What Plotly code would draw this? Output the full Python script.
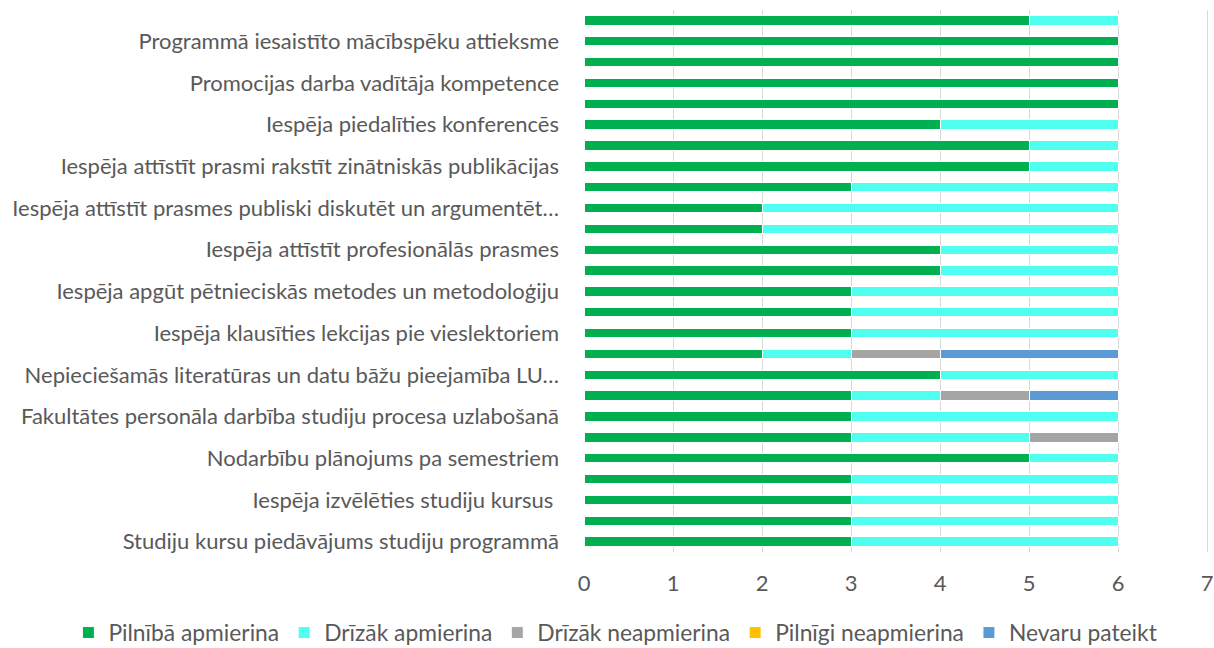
import plotly.graph_objects as go

# Categories bottom -> top (26 rows); only every other row carries a visible label
labels = [
    "Studiju kursu piedāvājums studiju programmā", "",
    "Iespēja izvēlēties studiju kursus ", "",
    "Nodarbību plānojums pa semestriem", "",
    "Fakultātes personāla darbība studiju procesa uzlabošanā", "",
    "Nepieciešamās literatūras un datu bāžu pieejamība LU…", "",
    "Iespēja klausīties lekcijas pie vieslektoriem", "",
    "Iespēja apgūt pētnieciskās metodes un metodoloģiju", "",
    "Iespēja attīstīt profesionālās prasmes", "",
    "Iespēja attīstīt prasmes publiski diskutēt un argumentēt…", "",
    "Iespēja attīstīt prasmi rakstīt zinātniskās publikācijas", "",
    "Iespēja piedalīties konferencēs", "",
    "Promocijas darba vadītāja kompetence", "",
    "Programmā iesaistīto mācībspēku attieksme", "",
]
rows = list(range(len(labels)))

pilniba_apmierina = [3, 3, 3, 3, 5, 3, 3, 3, 4, 2, 3, 3, 3, 4, 4, 2, 2, 3, 5, 5, 4, 6, 6, 6, 6, 5]
drizak_apmierina = [3, 3, 3, 3, 1, 2, 3, 1, 2, 1, 3, 3, 3, 2, 2, 4, 4, 3, 1, 1, 2, 0, 0, 0, 0, 1]
drizak_neapmierina = [0, 0, 0, 0, 0, 1, 0, 1, 0, 1, 0, 0, 0, 0, 0, 0, 0, 0, 0, 0, 0, 0, 0, 0, 0, 0]
pilnigi_neapmierina = [0] * 26
nevaru_pateikt = [0, 0, 0, 0, 0, 0, 0, 1, 0, 2, 0, 0, 0, 0, 0, 0, 0, 0, 0, 0, 0, 0, 0, 0, 0, 0]

series = [
    ("Pilnībā apmierina", pilniba_apmierina, "#00B050"),
    ("Drīzāk apmierina", drizak_apmierina, "#4FFFEF"),
    ("Drīzāk neapmierina", drizak_neapmierina, "#A5A5A5"),
    ("Pilnīgi neapmierina", pilnigi_neapmierina, "#FFC000"),
    ("Nevaru pateikt", nevaru_pateikt, "#5B9BD5"),
]

FONT = "Lato"
TXT = "#595959"
FS = 22

fig = go.Figure()
for name, vals, col in series:
    fig.add_trace(go.Bar(
        y=rows, x=vals, name=name, orientation="h",
        marker=dict(color=col, line=dict(color="white", width=1)),
    ))

tick_vals = [r for r, l in zip(rows, labels) if l]
tick_text = [l for l in labels if l]

fig.update_layout(
    barmode="stack",
    bargap=0.55,
    width=1214, height=648,
    margin=dict(l=584, r=5, t=10, b=96, autoexpand=False),
    paper_bgcolor="white", plot_bgcolor="white",
    font=dict(family=FONT, color=TXT, size=FS),
    xaxis=dict(
        range=[0, 7.02], tickvals=[0, 1, 2, 3, 4, 5, 6, 7],
        showgrid=True, gridcolor="#D9D9D9", gridwidth=1,
        zeroline=False, showline=False, ticks="", ticklabelstandoff=16,
        automargin=False,
        tickfont=dict(size=FS, color=TXT, family=FONT),
    ),
    yaxis=dict(
        range=[-0.5, 25.5], tickmode="array", tickvals=tick_vals, ticktext=tick_text,
        showgrid=False, zeroline=False, showline=False, ticks="",
        ticklabelstandoff=24, automargin=False,
        tickfont=dict(size=FS, color=TXT, family=FONT),
    ),
    legend=dict(
        orientation="h", xref="paper", yref="paper",
        x=-0.825, xanchor="left", y=-0.149, yanchor="middle",
        font=dict(size=22.8, color=TXT, family=FONT),
        traceorder="normal", itemwidth=30, tracegroupgap=0,
    ),
    showlegend=True,
)

fig.write_html("out.html", config={"displayModeBar": False},
               post_script="document.body.style.margin='0';")
